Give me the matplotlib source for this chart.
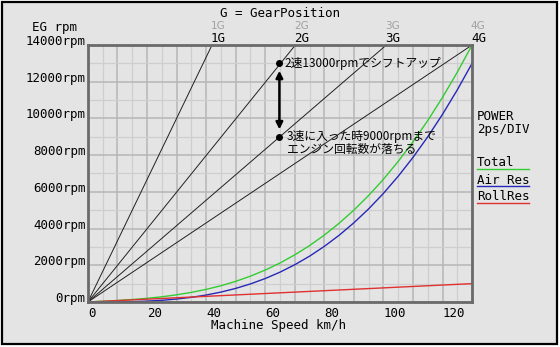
import matplotlib
matplotlib.use('Agg')
import matplotlib.pyplot as plt
from matplotlib.patches import Rectangle
from matplotlib.ticker import MultipleLocator

# Speed axis (km/h) and power curves plotted on the rpm scale (2ps/DIV)
speed = [0, 5, 10, 15, 20, 25, 30, 35, 40, 45, 50, 55, 60, 65,
         70, 75, 80, 85, 90, 95, 100, 105, 110, 115, 120, 125, 130]
air_res = [0, 1, 6, 20, 47, 92, 160, 254, 379, 539, 740, 985, 1278, 1625,
           2030, 2496, 3030, 3634, 4314, 5073, 5917, 6850, 7876, 8999, 10225, 11557, 13000]
roll_res = [0, 38, 77, 115, 154, 192, 231, 269, 308, 346, 385, 423, 462, 500,
            538, 577, 615, 654, 692, 731, 769, 808, 846, 885, 923, 962, 1000]
total = [0, 39, 83, 135, 201, 284, 391, 523, 687, 885, 1125, 1408, 1740, 2125,
         2568, 3073, 3645, 4288, 5006, 5804, 6686, 7658, 8722, 9884, 11148, 12519, 14000]

# gear lines: speed where each gear reaches 14000rpm
gears = ['1G', '2G', '3G', '4G']
gear_top_speed = [42, 70.2, 101, 130]
rpm_max = 14000

yticks = [0, 2000, 4000, 6000, 8000, 10000, 12000, 14000]
xticks = [0, 20, 40, 60, 80, 100, 120]

shift_speed = 64.8
shift_from = 13000
shift_to = 9000

BG = '#e4e4e4'
mono = 'DejaVu Sans Mono'
jp = ['Noto Sans CJK JP', 'DejaVu Sans']

fig = plt.figure(figsize=(5.6, 3.47), dpi=100)
fig.patch.set_facecolor('white')
fig.patches.append(Rectangle((0.003, 0.009), 0.991, 0.985, transform=fig.transFigure,
                             facecolor=BG, edgecolor='black', lw=1.6, zorder=-10))

ax = fig.add_axes([0.157, 0.1297, 0.686, 0.7406])
ax.set_facecolor(BG)
ax.set_xlim(0, 130)
ax.set_ylim(0, 14000)

ax.xaxis.set_major_locator(MultipleLocator(10))
ax.xaxis.set_minor_locator(MultipleLocator(5))
ax.yaxis.set_major_locator(MultipleLocator(2000))
ax.yaxis.set_minor_locator(MultipleLocator(1000))
ax.grid(which='major', color='#b6b6b6', lw=1.1)
ax.grid(which='minor', color='#cecece', lw=0.9)
ax.set_axisbelow(True)
ax.tick_params(which='both', length=0, labelbottom=False, labelleft=False)
for s in ax.spines.values():
    s.set_color('#6a6a6a')
    s.set_linewidth(2)

# tick labels
for v in xticks:
    ax.text(v, -250, str(v), ha='left', va='top', fontsize=9, family=mono)
for r in yticks:
    ax.text(-0.8, r, f'{r}rpm', ha='right', va='baseline', fontsize=9, family=mono)

# gear lines and labels
for g, s in zip(gears, gear_top_speed):
    ax.plot([0, s], [0, rpm_max], color='#202020', lw=0.7, clip_on=False)
    ax.text(s - 0.4, rpm_max + 330, g, ha='left', va='center', fontsize=9, family=mono)
    ax.text(s - 0.4, rpm_max + 1040, g, ha='left', va='center', fontsize=7.5,
            family='DejaVu Sans', color='#a0a0a0')

# power curves
ax.plot(speed, total, color='#33cc33', lw=1)
ax.plot(speed, air_res, color='#2828b8', lw=1)
ax.plot(speed, roll_res, color='#e03030', lw=1)

# shift annotation
ax.annotate('', xy=(shift_speed, shift_to + 250), xytext=(shift_speed, shift_from - 250),
            arrowprops=dict(arrowstyle='<|-|>', color='black', lw=1.8, mutation_scale=10))
ax.plot([shift_speed, shift_speed], [shift_from, shift_to], 'o', color='black', ms=4)
ax.text(shift_speed + 1.8, shift_from, '2速13000rpmでシフトアップ', ha='left', va='center',
        fontsize=8.5, family=jp)
ax.text(shift_speed + 2.6, shift_to + 350, '3速に入った時9000rpmまで\nエンジン回転数が落ちる',
        ha='left', va='top', fontsize=8.5, family=jp, linespacing=1.0)

# titles
fig.text(0.5, 0.96, 'G = GearPosition', ha='center', va='center', fontsize=9, family=mono)
fig.text(0.057, 0.922, 'EG rpm', ha='left', va='center', fontsize=9, family=mono)
fig.text(0.498, 0.063, 'Machine Speed km/h', ha='center', va='center', fontsize=9, family=mono)

# right-hand legend
fig.text(0.852, 0.663, 'POWER', ha='left', va='center', fontsize=9, family=mono)
fig.text(0.852, 0.628, '2ps/DIV', ha='left', va='center', fontsize=9, family=mono)
legend_items = [('Total', '#33cc33', 163), ('Air Res', '#2828b8', 180), ('RollRes', '#e03030', 197)]
for name, col, ypx in legend_items:
    y = 1 - ypx / 347
    fig.text(0.852, y, name, ha='left', va='center', fontsize=9, family=mono)
    fig.lines.append(plt.Line2D([0.852, 0.945], [y - 0.018, y - 0.018], color=col, lw=1,
                                transform=fig.transFigure))

fig.savefig('out.png', dpi=100, facecolor=fig.get_facecolor())
